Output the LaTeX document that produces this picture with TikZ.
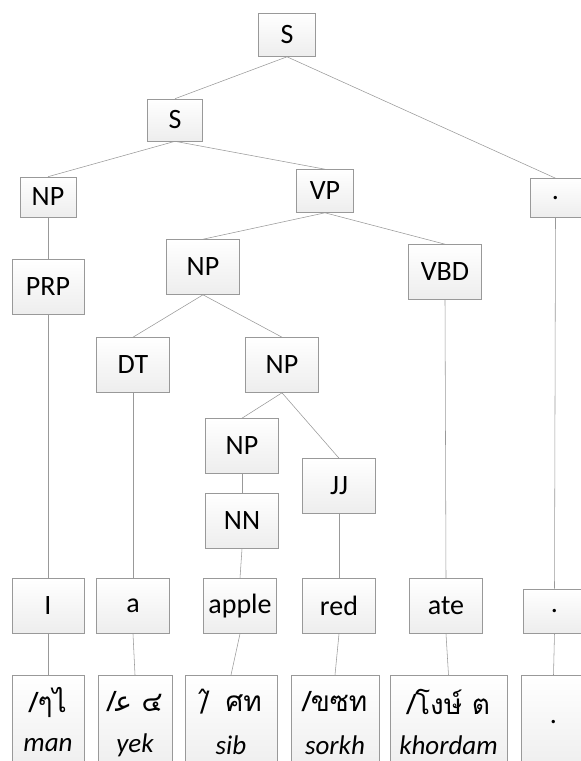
\documentclass[tikz,border=0pt]{standalone}
\usepackage{fontspec}
\setmainfont{Carlito}
\newfontfamily\thaifont[Script=Thai]{Loma}
\newfontfamily\dejafont{DejaVu Sans}
\usetikzlibrary{shadows}
\tikzset{
  box/.style={draw=gray!80, line width=0.6pt, top color=white, bottom color=gray!14,
    inner sep=0pt, font=\fontsize{28}{30}\selectfont,
    drop shadow={shadow xshift=0.8pt, shadow yshift=-0.8pt, opacity=0.25, fill=gray}},
  small/.style={box, minimum width=56pt, minimum height=42pt},
  big/.style={box, minimum width=73pt, minimum height=55pt},
  bottombox/.style={box, minimum height=100pt, anchor=north},
  edge/.style={draw=gray!80, line width=0.55pt},
  script/.style={font=\fontsize{28}{30}\selectfont\thaifont, inner sep=0pt},
  word/.style={font=\fontsize{27}{29}\selectfont\itshape, inner sep=0pt}
}
\begin{document}
\begin{tikzpicture}[x=1pt,y=-1pt]
\useasboundingbox (0,0) rectangle (581,761);
% upper tree
\node[small, minimum width=57pt, minimum height=43pt] (s1) at (287,35) {S};
\node[small, minimum width=55pt] (s2) at (175,120) {S};
\node[small, minimum height=40pt] (np1) at (48,197) {NP};
\node[small, minimum width=57pt, minimum height=43pt] (vp) at (325,191) {VP};
\node[small, minimum width=51pt, minimum height=39pt] (dot1) at (555.5,198) {.};
\node[big, minimum width=72pt] (prp) at (48,287) {PRP};
\node[big] (np2) at (203,267) {NP};
\node[big] (vbd) at (445,272) {VBD};
\node[big] (dt) at (133,365) {DT};
\node[big] (np3) at (282,365) {NP};
\node[big] (np4) at (242,446) {NP};
\node[big] (jj) at (339,486) {JJ};
\node[big] (nn) at (242,521) {NN};
% words
\node[big, minimum width=72pt] (wI) at (48,606) {I};
\node[big] (wa) at (133,606) {a};
\node[big] (wapple) at (240,606) {apple};
\node[big] (wred) at (339,606) {red};
\node[big] (wate) at (446,606) {ate};
\node[big, minimum width=63pt, minimum height=44pt] (wdot) at (554.5,611) {.};
% bottom boxes
\node[bottombox, minimum width=72pt] (bman) at (48,675) {};
\node[bottombox, minimum width=74pt] (byek) at (135,675) {};
\node[bottombox, minimum width=92pt] (bsib) at (231,675) {};
\node[bottombox, minimum width=88pt] (bsorkh) at (335,675) {};
\node[bottombox, minimum width=117pt] (bkhordam) at (448.5,675) {};
\node[bottombox, minimum width=65pt] (bdot) at (553.5,675) {};
% bottom texts
\node[script] (tman) at (48,702) {/ๆไ};
\node[script] (tyek) at (135,702) {/{\dejafont ﻋ} ๔};
\node[script] (tsib) at (231,702) {{\dejafont /̂}\hspace{16pt}ศท};
\node[script] (tsorkh) at (335,702) {/ขซท};
\node[script] (tkhordam) at (448.5,702) {/โงษ์ ต};
\node[word] (lman) at (48,745) {man};
\node[word] (lyek) at (135,745) {yek};
\node[word] (lsib) at (231,745) {sib};
\node[word] (lsorkh) at (335,745) {sorkh};
\node[word] (lkhordam) at (448.5,745) {khordam};
\node[font=\fontsize{28}{30}\selectfont, inner sep=0pt] (ldot) at (553.5,722) {.};
% edges
\path[edge] (s1.south) -- (s2.north);
\path[edge] (s1.south) -- (dot1.north);
\path[edge] (s2.south) -- (np1.north);
\path[edge] (s2.south) -- (vp.north);
\path[edge] (vp.south) -- (np2.north);
\path[edge] (vp.south) -- (vbd.north);
\path[edge] (np1.south) -- (prp.north);
\path[edge] (np2.south) -- (dt.north);
\path[edge] (np2.south) -- (np3.north);
\path[edge] (np3.south) -- (np4.north);
\path[edge] (np3.south) -- (jj.north);
\path[edge] (np4.south) -- (nn.north);
\path[edge] (prp.south) -- (wI.north);
\path[edge] (dt.south) -- (wa.north);
\path[edge] (nn.south) -- (wapple.north);
\path[edge] (jj.south) -- (wred.north);
\path[edge] (vbd.south) -- (wate.north);
\path[edge] (dot1.south) -- (wdot.north);
\path[edge] (wI.south) -- (bman.north);
\path[edge] (wa.south) -- (byek.north);
\path[edge] (wapple.south) -- (bsib.north);
\path[edge] (wred.south) -- (bsorkh.north);
\path[edge] (wate.south) -- (bkhordam.north);
\path[edge] (wdot.south) -- (bdot.north);
\end{tikzpicture}
\end{document}
